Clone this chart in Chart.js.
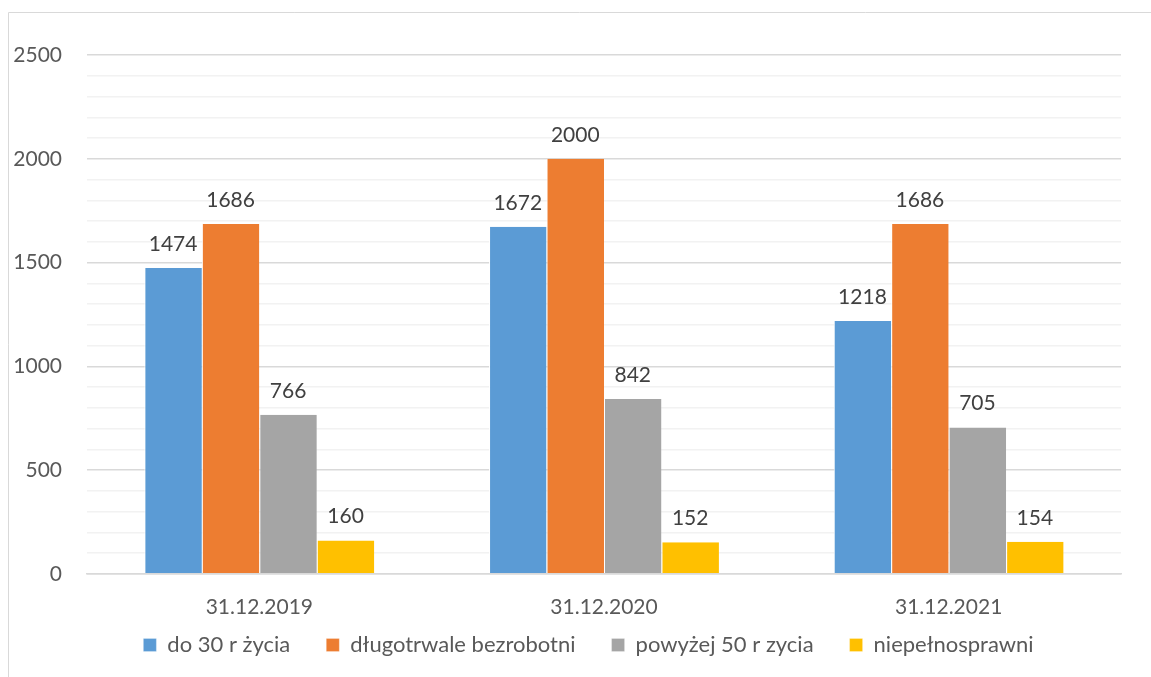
<!DOCTYPE html>
<html>
<head>
<meta charset="utf-8">
<script src="https://cdn.jsdelivr.net/npm/chart.js@4/dist/chart.umd.min.js"></script>
<style>
	html, body { margin: 0; padding: 0; background: #fff; }
	#wrap { width: 1151px; height: 677px; position: relative; }
</style>
</head>
<body>
<div id="wrap"><canvas id="barChart" width="1151" height="677"></canvas></div>
<script>
var categories = [ "31.12.2019", "31.12.2020", "31.12.2021" ];
var seriesNames = [ "do 30 r życia", "długotrwale bezrobotni", "powyżej 50 r zycia", "niepełnosprawni" ];
var do30 = [ 1474, 1672, 1218 ];
var dlugotrwale = [ 1686, 2000, 1686 ];
var powyzej50 = [ 766, 842, 705 ];
var niepelnosprawni = [ 160, 152, 154 ];
var yTicks = [ 0, 500, 1000, 1500, 2000, 2500 ];

var seriesColors = [ "#5B9BD5", "#ED7D31", "#A5A5A5", "#FFC000" ];
var fontFamily = "Lato, 'Open Sans', sans-serif";
var fontSize = 21;

var framePlugin = {
	id: "frame",
	beforeInit: function( chart ) {
		// legend keeps its wide item spacing but not the tall box that comes with it
		var origFit = chart.legend.fit;
		chart.legend.fit = function() {
			origFit.bind( chart.legend )();
			this.height = 44;
		};
	},
	afterLayout: function( chart ) {
		// pull the legend row up (bottom stays so the text is not clipped) and slightly right
		chart.legend.top -= 35;
		chart.legend.left += 28;
		chart.legend.right += 28;
	},
	beforeDraw: function( chart ) {
		// frame around the whole chart (only top and left edges are visible)
		var ctx = chart.ctx;
		ctx.save();
		ctx.strokeStyle = "#D9D9D9";
		ctx.lineWidth = 1;
		ctx.beginPath();
		ctx.moveTo( 8.5, chart.height );
		ctx.lineTo( 8.5, 12.5 );
		ctx.lineTo( chart.width, 12.5 );
		ctx.stroke();
		ctx.restore();
	}
};

// value labels above the bars
var valueLabels = {
	id: "valueLabels",
	afterDatasetsDraw: function( chart ) {
		var ctx = chart.ctx;
		ctx.save();
		ctx.font = fontSize + "px " + fontFamily;
		ctx.fillStyle = "#404040";
		ctx.textAlign = "center";
		ctx.textBaseline = "middle";
		chart.data.datasets.forEach( function( ds, i ) {
			var meta = chart.getDatasetMeta( i );
			meta.data.forEach( function( bar, j ) {
				ctx.fillText( ds.data[ j ], bar.x, bar.y - 24 );
			} );
		} );
		ctx.restore();
	}
};

var dataArrays = [ do30, dlugotrwale, powyzej50, niepelnosprawni ];
var datasets = [];
for ( var i = 0; i < dataArrays.length; i++ ) {
	datasets.push( {
		label: seriesNames[ i ],
		data: dataArrays[ i ],
		backgroundColor: seriesColors[ i ],
		borderColor: "#ffffff",
		borderWidth: { left: 1 },
		categoryPercentage: 0.667,
		barPercentage: 1
	} );
}

new Chart( document.getElementById( "barChart" ), {
	type: "bar",
	data: {
		labels: categories,
		datasets: datasets
	},
	options: {
		responsive: false,
		animation: false,
		layout: {
			padding: { left: 0, right: 30, top: 55, bottom: 0 }
		},
		plugins: {
			legend: {
				position: "bottom",
				labels: {
					boxWidth: 13,
					boxHeight: 13,
					padding: 36,
					color: "#595959",
					font: { size: 22, family: fontFamily }
				}
			},
			tooltip: { enabled: false }
		},
		scales: {
			x: {
				grid: { display: false },
				border: { color: "#D9D9D9", width: 1.5 },
				ticks: {
					color: "#595959",
					padding: 13,
					font: { size: fontSize, family: fontFamily }
				}
			},
			y: {
				min: yTicks[ 0 ],
				max: yTicks[ yTicks.length - 1 ],
				border: { display: false },
				afterFit: function( scale ) { scale.width = 87; },
				grid: {
					drawTicks: false,
					color: function( c ) {
						return yTicks.indexOf( c.tick.value ) >= 0 ? "#D9D9D9" : "#F2F2F2";
					},
					lineWidth: 1.5
				},
				ticks: {
					stepSize: 100,
					autoSkip: false,
					padding: 25,
					color: "#595959",
					font: { size: fontSize, family: fontFamily },
					callback: function( value ) {
						return yTicks.indexOf( value ) >= 0 ? value : "";
					}
				}
			}
		}
	},
	plugins: [ framePlugin, valueLabels ]
} );
</script>
</body>
</html>
